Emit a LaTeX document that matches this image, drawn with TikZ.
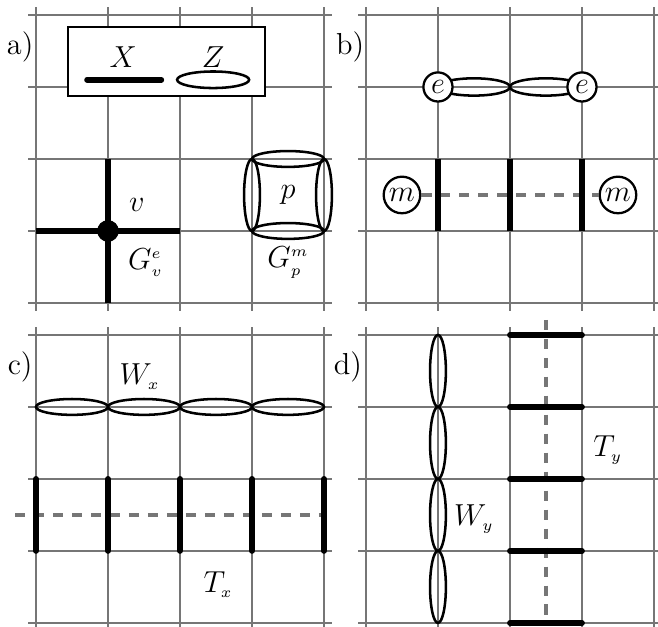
\documentclass[tikz,border=0pt]{standalone}
\definecolor{gridc}{RGB}{118,118,118}
\tikzset{
  gridline/.style={draw=gridc, line width=1.1pt},
  xop/.style={line width=2.3pt, line cap=round},
  zop/.style={line width=1pt},
  dashline/.style={draw=gridc, line width=1.3pt, dash pattern=on 4pt off 3.5pt},
  lbl/.style={inner sep=0pt, font=\fontsize{12}{14}\selectfont},
  excite/.style={circle, draw, fill=white, line width=0.9pt, inner sep=1.1pt, minimum size=11.5pt, font=\fontsize{12}{14}\selectfont},
}
\newcommand{\tinyidx}[1]{{\scriptscriptstyle #1}}
\newcommand{\mygrid}{%
  \foreach \i in {0,...,4} {
    \draw[gridline] (\i,-0.11) -- (\i,4.11);
    \draw[gridline] (-0.11,\i) -- (4.11,\i);
  }}
\begin{document}
\begin{tikzpicture}
\useasboundingbox (0,0) rectangle (9.139,8.708);
% ---------------- panel a
\begin{scope}[shift={(0.5,4.5)}]
  \mygrid
  \node[lbl] (la) at (-0.22,3.56) {a)};
  \draw[fill=white, line width=0.9pt] (0.444,2.875) rectangle (3.18,3.833);
  \node[lbl] (legx) at (1.21,3.42) {$X$};
  \node[lbl] (legz) at (2.46,3.42) {$Z$};
  \draw[xop] (0.71,3.10) -- (1.74,3.10);
  \draw[zop] (2.46,3.10) ellipse (0.5 and 0.115);
  % vertex operator
  \draw[xop, line cap=butt] (1,0) -- (1,2);
  \draw[xop, line cap=butt] (0,1) -- (2,1);
  \fill (1,1) circle (0.15);
  \node[lbl] (v) at (1.40,1.36) {$v$};
  \node[lbl] (gv) at (1.52,0.56) {$G^{\tinyidx{e}}_{\tinyidx{v}}$};
  % plaquette operator
  \draw[zop] (3.5,2) ellipse (0.5 and 0.11);
  \draw[zop] (3.5,1) ellipse (0.5 and 0.11);
  \draw[zop] (3,1.5) ellipse (0.11 and 0.5);
  \draw[zop] (4,1.5) ellipse (0.11 and 0.5);
  \node[lbl] (p) at (3.5,1.5) {$p$};
  \node[lbl] (gp) at (3.5,0.56) {$G^{\tinyidx{m}}_{\tinyidx{p}}$};
\end{scope}
% ---------------- panel b
\begin{scope}[shift={(5.083,4.5)}]
  \mygrid
  \node[lbl] (lb) at (-0.22,3.56) {b)};
  \draw[zop] (1.5,3) ellipse (0.5 and 0.12);
  \draw[zop] (2.5,3) ellipse (0.5 and 0.12);
  \node[excite] (e1) at (1,3) {$e$};
  \node[excite] (e2) at (3,3) {$e$};
  \node[excite] (m1) at (0.5,1.5) {$m$};
  \node[excite] (m2) at (3.5,1.5) {$m$};
  \draw[dashline] (m1) -- (m2);
  \foreach \x in {1,2,3} \draw[xop, line cap=butt] (\x,1) -- (\x,2);
\end{scope}
% ---------------- panel c
\begin{scope}[shift={(0.5,0.056)}]
  \mygrid
  \node[lbl] (lc) at (-0.22,3.56) {c)};
  \foreach \x in {0.5,1.5,2.5,3.5} \draw[zop] (\x,3) ellipse (0.5 and 0.11);
  \node[lbl] (wx) at (1.44,3.42) {$W_{\tinyidx{x}}$};
  \coordinate (tx1) at (-0.29,1.5);
  \coordinate (tx2) at (4.0,1.5);
  \draw[dashline] (tx1) -- (tx2);
  \foreach \x in {0,...,4} \draw[xop, line cap=round] (\x,1) -- (\x,2);
  \node[lbl] (tx) at (2.53,0.53) {$T_{\tinyidx{x}}$};
\end{scope}
% ---------------- panel d
\begin{scope}[shift={(5.083,0.056)}]
  \mygrid
  \node[lbl] (ld) at (-0.25,3.56) {d)};
  \foreach \y in {0.5,1.5,2.5,3.5} \draw[zop] (1,\y) ellipse (0.11 and 0.5);
  \node[lbl] (wy) at (1.5,1.44) {$W_{\tinyidx{y}}$};
  \coordinate (ty1) at (2.5,4.21);
  \coordinate (ty2) at (2.5,0);
  \draw[dashline] (ty1) -- (ty2);
  \foreach \y in {0,...,4} \draw[xop, line cap=round] (2,\y) -- (3,\y);
  \node[lbl] (ty) at (3.36,2.4) {$T_{\tinyidx{y}}$};
\end{scope}
\end{tikzpicture}
\end{document}
